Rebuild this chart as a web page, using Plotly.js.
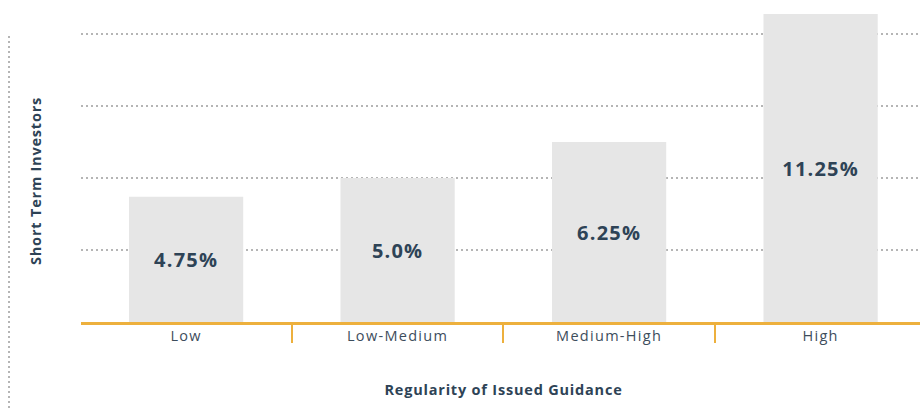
<!DOCTYPE html>
<html>
<head>
<meta charset="utf-8">
<script src="https://cdn.plot.ly/plotly-3.0.1.min.js"></script>
<style>
html,body{margin:0;padding:0;background:#fff;overflow:hidden;}
#chart{width:920px;height:408px;}
#chart .xtick text{letter-spacing:1.3px;}
#chart .annotation text{letter-spacing:0.8px;}
#chart .bars text{letter-spacing:1.2px;}
</style>
</head>
<body>
<div id="chart"></div>
<script>
const categories = ["Low", "Low-Medium", "Medium-High", "High"];
// bar heights as drawn in the picture (the first bar is drawn shorter than its label, the last is cut at the top)
const barHeights = [4.35, 5.0, 6.25, 10.7];
const valueLabels = ["4.75%", "5.0%", "6.25%", "11.25%"];
const xTitle = "Regularity of Issued Guidance";
const yTitle = "Short Term Investors";

const dark = "#2e4356";
const orange = "#EDB03D";
const grid = "#b5b5b5";

const trace = {
  type: "bar",
  x: categories,
  y: barHeights,
  text: valueLabels,
  textposition: "inside",
  insidetextanchor: "middle",
  textangle: 0,
  textfont: {family: "Open Sans, sans-serif", size: 20, color: dark, weight: 700},
  marker: {color: "#e6e6e6", line: {width: 0}},
  hoverinfo: "none"
};

const layout = {
  width: 920,
  height: 408,
  margin: {l: 81, r: 0, t: 14, b: 86},
  paper_bgcolor: "#fff",
  plot_bgcolor: "#fff",
  showlegend: false,
  bargap: 0.46,
  font: {family: "Open Sans, sans-serif", color: dark},
  xaxis: {
    type: "category",
    range: [-0.497, 3.47],
    showline: true,
    linecolor: orange,
    linewidth: 2.5,
    ticks: "outside",
    tickson: "boundaries",
    ticklen: 18,
    tickwidth: 2,
    tickcolor: orange,
    ticklabelstandoff: -1,
    tickfont: {family: "Open Sans, sans-serif", size: 14.5, color: "#3d4d5c"},
    showgrid: false,
    zeroline: false,
    fixedrange: true
  },
  yaxis: {
    range: [0, 10.7],
    tick0: 0,
    dtick: 2.5,
    showticklabels: false,
    ticks: "",
    showgrid: true,
    gridcolor: grid,
    gridwidth: 2,
    griddash: "2px,3px",
    zeroline: false,
    showline: false,
    fixedrange: true
  },
  shapes: [{
    type: "line",
    xref: "paper", yref: "paper",
    x0: -72/839, x1: -72/839,
    y0: -86/308, y1: 289/308,
    line: {color: grid, width: 2, dash: "2px,3px"}
  }],
  annotations: [
    {
      text: "<b>" + xTitle + "</b>",
      xref: "paper", yref: "paper",
      x: 422/839, y: -67/308,
      xanchor: "center", yanchor: "middle",
      showarrow: false,
      font: {family: "Open Sans, sans-serif", size: 14.5, color: dark}
    },
    {
      text: "<b>" + yTitle + "</b>",
      xref: "paper", yref: "paper",
      x: -45/839, y: 141/308,
      xanchor: "center", yanchor: "middle",
      textangle: -90,
      showarrow: false,
      font: {family: "Open Sans, sans-serif", size: 14.5, color: dark}
    }
  ]
};

Plotly.newPlot("chart", [trace], layout, {displayModeBar: false, staticPlot: true});
</script>
</body>
</html>
